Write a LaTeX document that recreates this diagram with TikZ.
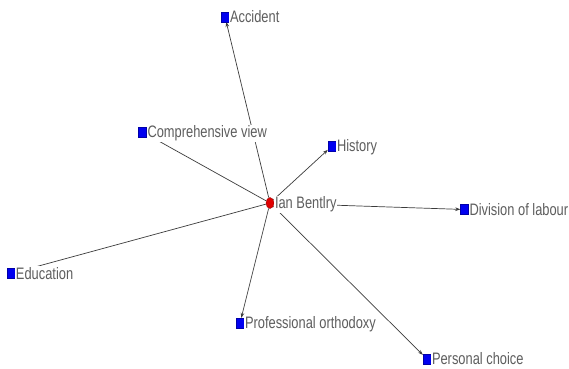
\documentclass[tikz,border=0pt]{standalone}
\usepackage{fontspec}
\setmainfont[FakeStretch=0.775]{Liberation Sans}
\usetikzlibrary{arrows.meta,shapes.geometric,backgrounds}
\definecolor{txtgray}{HTML}{5E5E5E}
\definecolor{edgegray}{HTML}{3C3C3C}
\definecolor{sqblue}{HTML}{0000F0}
\definecolor{dotred}{HTML}{E00000}
\tikzset{
  topic/.style={rectangle,fill=sqblue,draw=sqblue!70!black,line width=0.4pt,
    minimum width=8pt,minimum height=10pt,inner sep=0pt},
  person/.style={ellipse,fill=dotred,draw=dotred!70!black,line width=0.4pt,
    minimum width=8pt,minimum height=11pt,inner sep=0pt},
  tag/.style={anchor=base west,yshift=-5.8pt,fill=white,inner xsep=0.6pt,inner ysep=1pt,
    text=txtgray,font=\fontsize{16.6}{18}\selectfont},
  link/.style={draw=edgegray,line width=0.7pt},
  tie/.style={link,-{Stealth[length=5pt,width=3.6pt]}}
}
\begin{document}
\begin{tikzpicture}[x=1pt,y=-1pt]
\useasboundingbox (0,0) rectangle (569,368);

% actors
\node[person] (ian) at (270,203) {};
\node[topic] (acc) at (225,16.7) {};
\node[topic] (comp) at (142.5,132) {};
\node[topic] (hist) at (332,146) {};
\node[topic] (div) at (464.5,209.5) {};
\node[topic] (edu) at (11,273.5) {};
\node[topic] (prof) at (240,323) {};
\node[topic] (pers) at (427,359) {};

% ties, kept beneath the markers and their names
\begin{scope}[on background layer]
  \fill[white] (0,0) rectangle (569,368);
  \draw[link] (comp) -- (ian);
  \draw[link] (edu) -- (ian);
  \draw[tie] (ian) -- (acc);
  \draw[tie] (ian) -- (hist);
  \draw[tie] (ian.center) -- (div);
  \draw[tie] (ian) -- (prof);
  \draw[tie] (ian) -- (pers);
\end{scope}

% names
\node[tag] (ianname) at (ian.east) {Ian Bentlry};
\node[tag] (accname) at (acc.east) {Accident};
\node[tag] (compname) at (comp.east) {Comprehensive view};
\node[tag] (histname) at (hist.east) {History};
\node[tag] (divname) at (div.east) {Division of labour};
\node[tag] (eduname) at (edu.east) {Education};
\node[tag] (profname) at (prof.east) {Professional orthodoxy};
\node[tag] (persname) at (pers.east) {Personal choice};
\end{tikzpicture}
\end{document}
